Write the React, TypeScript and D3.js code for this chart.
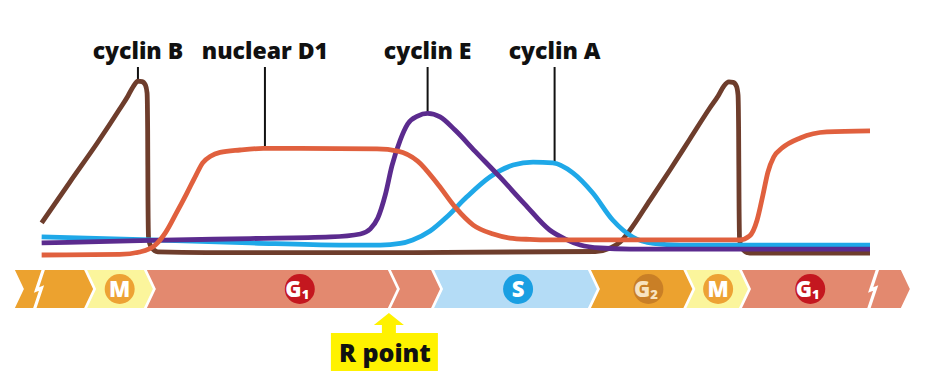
import React from 'react';
import * as d3 from 'd3';

const W = 929;
const H = 379;

// time in % of the drawn span, level in relative units (0-100)
const cyclinBTime = [0.2, 3.6, 6.9, 9.6, 10.6, 11.2, 11.8, 12.3, 12.7, 12.9, 12.97, 13.01, 13.08, 13.4, 14.2, 20, 45, 66.9, 68.7, 69.9, 71.1, 73.5, 75.9, 78.3, 80.7, 81.7, 82.4, 83.0, 83.5, 83.9, 84.1, 84.17, 84.22, 84.29, 84.6, 85.5, 100];
const cyclinBLevel = [18.3, 41.7, 64.0, 83.4, 90.9, 96.0, 99.4, 99.1, 97.1, 92.6, 71.4, 31.4, 9.7, 4.6, 1.8, 1.4, 1.4, 2.0, 4.0, 7.4, 14.3, 31.4, 48.6, 66.3, 84.0, 90.9, 96.6, 98.9, 98.6, 96.6, 91.4, 71.4, 31.4, 8.6, 3.6, 1.1, 1.1];

const d1Time = [0.2, 9.6, 12.0, 13.9, 15.1, 16.5, 17.7, 18.8, 19.6, 20.6, 21.7, 24.1, 26.9, 31.3, 40.6, 43.1, 45.5, 48.0, 50.1, 52.2, 54.6, 56.6, 59.0, 61.4, 67.5, 79.5, 84.3, 85.5, 86.4, 87.1, 87.7, 88.4, 89.4, 91.6, 94.8, 100];
const d1Level = [0, 0.3, 1.7, 5.7, 12.6, 24.6, 35.4, 45.7, 52.6, 56.6, 58.6, 60.0, 60.9, 60.9, 60.6, 59.4, 53.7, 40.0, 26.9, 17.1, 12.0, 9.7, 8.9, 8.6, 8.6, 8.6, 8.6, 10.9, 20.0, 34.3, 47.4, 56.0, 61.1, 66.9, 70.3, 70.9];

const cyclinETime = [0.2, 13.3, 25.3, 35.0, 38.6, 39.8, 40.7, 41.6, 42.4, 43.4, 44.3, 45.5, 46.7, 48.2, 50.0, 52.4, 55.4, 58.4, 61.4, 63.3, 65.1, 67.5, 71.1, 100];
const cyclinELevel = [6.9, 8.3, 9.4, 10.3, 12.0, 14.9, 21.1, 34.3, 50.9, 65.7, 74.9, 79.4, 80.9, 78.9, 71.4, 59.4, 44.6, 29.1, 14.3, 9.1, 5.7, 4.0, 3.4, 3.4];

const cyclinATime = [0.2, 13.3, 25.3, 36.1, 41.0, 43.4, 44.9, 47.0, 49.0, 51.4, 54.2, 57.0, 59.4, 61.8, 64.2, 66.6, 69.0, 71.4, 73.9, 77.1, 100];
const cyclinALevel = [10.3, 8.6, 6.9, 5.7, 5.7, 6.6, 8.6, 13.7, 21.7, 33.1, 44.6, 51.4, 53.1, 52.6, 46.9, 35.4, 20.0, 10.3, 6.6, 5.7, 5.7];

const seriesNames = ['cyclin B', 'nuclear D1', 'cyclin E', 'cyclin A'];
const seriesColors = ['#6e3d2c', '#e0603e', '#5b2b8e', '#1fa8e8'];
const labelTimes = [11.8, 27.1, 46.7, 62.0];
const drawOrder = [0, 3, 2, 1];

const phaseNames = ['', 'M', 'G1', '', 'S', 'G2', 'M', 'G1'];
const phaseStarts = [-2.3, 6.4, 13.6, 43.0, 48.2, 67.1, 78.6, 85.3];
const phaseEnds = [6.4, 13.6, 43.0, 48.2, 67.1, 78.6, 85.3, 104.8];
const phaseLabelTimes = [0, 9.6, 31.3, 0, 57.6, 73.3, 81.7, 92.8];
const phaseFills = ['#eca22f', '#fbf59c', '#e3896f', '#e3896f', '#b4dcf6', '#eca22f', '#fbf59c', '#e3896f'];
const badgeFills: Record<string, string> = { M: '#eda234', G1: '#c4171f', S: '#1a9fe2', G2: '#c97f26' };
const badgeText: Record<string, string> = { M: '#ffffff', G1: '#ffffff', S: '#ffffff', G2: '#f7e3c0' };
const restrictionTime = 43.0;
const breakTimes = [-0.3, 100.2];

export default function App() {
  const x = d3.scaleLinear().domain([0, 100]).range([40, 870]);
  const y = d3.scaleLinear().domain([0, 100]).range([255, 80]);

  const series = [
    { t: cyclinBTime, v: cyclinBLevel },
    { t: d1Time, v: d1Level },
    { t: cyclinETime, v: cyclinELevel },
    { t: cyclinATime, v: cyclinALevel },
  ];

  const line = d3
    .line<[number, number]>()
    .x((d) => x(d[0]))
    .y((d) => y(d[1]))
    .curve(d3.curveMonotoneX);

  const font = '"Open Sans", "Noto Sans", sans-serif';

  const barTop = 270;
  const barBot = 308;
  const barMid = (barTop + barBot) / 2;
  const dep = 9;
  const gap = 3;

  const labelY = 59;
  const leaderTop = 67;

  const peakOf = (i: number) => {
    const s = series[i];
    const tt = labelTimes[i];
    let best = 0;
    let bd = 1e9;
    s.t.forEach((t, k) => {
      if (Math.abs(t - tt) < bd) {
        bd = Math.abs(t - tt);
        best = k;
      }
    });
    return y(s.v[best]) - 1;
  };

  const rx = x(restrictionTime) - dep + 1;

  return (
    <svg width={W} height={H} style={{ position: 'absolute', left: 0, top: 0, background: '#fff' }}>
      <rect x={0} y={0} width={W} height={H} fill="#fff" />
      {/* leader lines and labels */}
      {seriesNames.map((n, i) => (
        <g key={n}>
          <line x1={x(labelTimes[i])} x2={x(labelTimes[i])} y1={leaderTop} y2={peakOf(i)} stroke="#111" strokeWidth={2} />
          <text x={x(labelTimes[i])} y={labelY} textAnchor="middle" fontFamily={font} fontWeight={800} fontSize={23} fill="#111">
            {n}
          </text>
        </g>
      ))}
      {/* curves */}
      {drawOrder.map((i) => (
        <path
          key={i}
          d={line(series[i].t.map((t, k) => [t, series[i].v[k]] as [number, number])) || ''}
          fill="none"
          stroke={seriesColors[i]}
          strokeWidth={4.8}
          strokeLinejoin="round"
          strokeLinecap="butt"
        />
      ))}
      {/* phase bar */}
      {phaseNames.map((p, i) => {
        const xs = x(phaseStarts[i]);
        const xe = x(phaseEnds[i]);
        const pts = [
          [xs - dep + gap, barTop],
          [xe - dep, barTop],
          [xe, barMid],
          [xe - dep, barBot],
          [xs - dep + gap, barBot],
          [xs + gap, barMid],
        ];
        return <polygon key={i} points={pts.map((q) => q.join(',')).join(' ')} fill={phaseFills[i]} />;
      })}
      {/* breaks */}
      {breakTimes.map((bt, i) => {
        const bx = x(bt);
        const pts = [
          [bx + 6, barTop - 1],
          [bx - 1, barMid + 1],
          [bx + 4, barMid - 1],
          [bx - 3, barBot + 1],
        ];
        return (
          <polyline key={i} points={pts.map((q) => q.join(',')).join(' ')} fill="none" stroke="#fff" strokeWidth={3.2} strokeLinejoin="miter" />
        );
      })}
      {/* badges */}
      {phaseNames.map((p, i) => {
        if (!p) return null;
        const cx = x(phaseLabelTimes[i]);
        const letter = p[0];
        const sub = p.length > 1 ? p.slice(1) : '';
        return (
          <g key={'b' + i}>
            <circle cx={cx} cy={barMid} r={15} fill={badgeFills[p]} />
            <text
              x={cx + (sub ? -2.5 : 0)}
              y={barMid + 8}
              textAnchor="middle"
              fontFamily={font}
              fontWeight={800}
              fontSize={22}
              fill={badgeText[p]}
            >
              {letter}
              {sub ? (
                <tspan fontSize={13} dy={2}>
                  {sub}
                </tspan>
              ) : null}
            </text>
          </g>
        );
      })}
      {/* R point */}
      <polygon
        points={[
          [rx, barBot + 5],
          [rx + 15, 325],
          [rx + 7, 325],
          [rx + 7, 334],
          [rx - 7, 334],
          [rx - 7, 325],
          [rx - 15, 325],
        ]
          .map((q) => q.join(','))
          .join(' ')}
        fill="#fff200"
      />
      <rect x={rx - 58} y={333} width={107} height={38} fill="#fff200" />
      <text x={rx - 4} y={362} textAnchor="middle" fontFamily={font} fontWeight={800} fontSize={25} fill="#111">
        R point
      </text>
    </svg>
  );
}
